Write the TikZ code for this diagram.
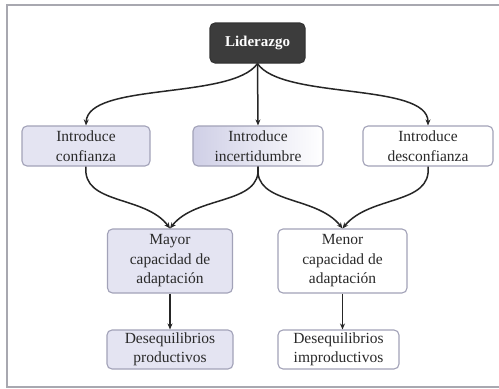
\documentclass[tikz,border=0pt]{standalone}
\usepackage{fontspec}
\setmainfont{Liberation Serif}
\usetikzlibrary{arrows.meta}
\definecolor{lav}{HTML}{E4E4F2}
\definecolor{lavdark}{HTML}{CFCFE6}
\definecolor{bord}{HTML}{A2A2B8}
\definecolor{frame}{HTML}{A8A8B0}
\definecolor{dark}{HTML}{3C3C3C}
\definecolor{txt}{HTML}{2A2A2A}
\tikzset{
  box/.style={draw=bord, line width=1.1pt, rounded corners=5pt, align=center,
    inner sep=0pt, text=txt, font=\fontsize{15.5}{19.5}\selectfont},
  lavbox/.style={box, fill=lav},
  whitebox/.style={box, fill=white},
  arr/.style={line width=1.5pt, draw=black!85, -{Stealth[length=6pt,width=5pt]}}
}
\begin{document}
\begin{tikzpicture}[x=1pt,y=-1pt]
\useasboundingbox (0,0) rectangle (499,389);
\fill[white] (0,0) rectangle (499,389);
\draw[frame, line width=1.6pt] (7,5) rectangle (506,387);

\node[box, fill=dark, draw=black!80, text=white, font=\fontsize{15}{18}\selectfont\bfseries,
  minimum width=95pt, minimum height=40pt] (lid) at (257.5,43) {Liderazgo};

\node[lavbox, minimum width=128pt, minimum height=40pt] (conf) at (86,146) {Introduce\\confianza};
\node[box, left color=lavdark, right color=white, minimum width=130pt, minimum height=40pt]
  (inc) at (258,146) {Introduce\\incertidumbre};
\node[whitebox, minimum width=130pt, minimum height=40pt] (desc) at (428,146) {Introduce\\desconfianza};

\node[lavbox, minimum width=125pt, minimum height=64pt] (mayor) at (170,261) {Mayor\\capacidad de\\adaptación};
\node[whitebox, minimum width=129pt, minimum height=64pt] (menor) at (342.5,261) {Menor\\capacidad de\\adaptación};

\node[lavbox, minimum width=126pt, minimum height=39pt] (prod) at (170,349.5) {Desequilibrios\\productivos};
\node[whitebox, minimum width=121pt, minimum height=39pt] (improd) at (338.5,349.5) {Desequilibrios\\improductivos};

\draw[arr] (lid.south) .. controls (232,100) and (88,82) .. (conf.north);
\draw[arr] (lid.south) -- (inc.north);
\draw[arr] (lid.south) .. controls (282,100) and (428,82) .. (desc.north);

\draw[arr] (conf.south) .. controls (82,205) and (145,195) .. (mayor.north);
\draw[arr] (inc.south) .. controls (262,205) and (196,195) .. (mayor.north);
\draw[arr] (inc.south) .. controls (254,205) and (316,195) .. (menor.north);
\draw[arr] (desc.south) .. controls (432,205) and (370,195) .. (menor.north);

\draw[arr] (mayor.south) -- (prod.north);
\draw[arr] (menor.south) -- (menor.south |- improd.north);
\end{tikzpicture}
\end{document}
